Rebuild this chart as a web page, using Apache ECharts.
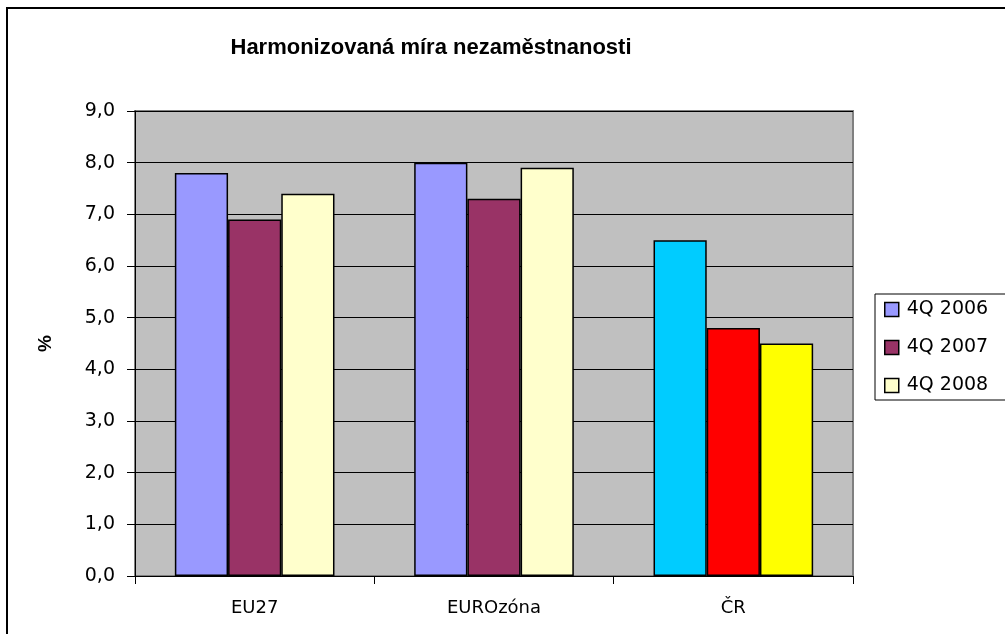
<!DOCTYPE html>
<html>
<head>
<meta charset="utf-8">
<script src="https://cdn.jsdelivr.net/npm/echarts@6/dist/echarts.min.js"></script>
<style>
  html, body { margin: 0; padding: 0; background: #fff; }
  #chart { width: 1005px; height: 634px; }
</style>
</head>
<body>
<div id="chart"></div>
<script>
// data
var categories = ["EU27", "EUROzóna", "ČR"];
var seriesNames = ["4Q 2006", "4Q 2007", "4Q 2008"];
var q2006 = [7.8, 8.0, 6.5];
var q2007 = [6.9, 7.3, 4.8];
var q2008 = [7.4, 7.9, 4.5];

// colours: legend colour per series, plus override for the ČR bars
var seriesColors = ["#9999FF", "#993366", "#FFFFCC"];
var crColors = ["#00CCFF", "#FF0000", "#FFFF00"];
var crIndex = 2;

function buildData(values, s) {
  return values.map(function (v, i) {
    if (i === crIndex) {
      return { value: v, itemStyle: { color: crColors[s] } };
    }
    return v;
  });
}

var font = "Liberation Sans, Arial, sans-serif";
var wideFont = "DejaVu Sans, Liberation Sans, sans-serif";
var chart = echarts.init(document.getElementById("chart"));

var option = {
  animation: false,
  title: {
    text: "Harmonizovaná míra nezaměstnanosti",
    left: 426,
    textAlign: "center",
    top: 32,
    textStyle: { fontFamily: font, fontSize: 22, fontWeight: "bold", color: "#000" }
  },
  legend: {
    orient: "vertical",
    left: 875,
    top: 294,
    padding: [6, 60, 5, 9],
    itemGap: 19,
    itemWidth: 14,
    itemHeight: 14,
    icon: "rect",
    backgroundColor: "#fff",
    borderColor: "#000",
    borderWidth: 1,
    textStyle: { fontFamily: wideFont, fontSize: 19, color: "#000", padding: [0, 0, 0, 3] },
    itemStyle: { borderColor: "#000", borderWidth: 1.5 },
    data: seriesNames
  },
  grid: {
    left: 135,
    right: 152,
    top: 111,
    bottom: 58,
    show: true,
    backgroundColor: "#C0C0C0",
    borderColor: "#808080",
    borderWidth: 2
  },
  xAxis: {
    type: "category",
    data: categories,
    axisLine: { lineStyle: { color: "#000", width: 1 } },
    axisTick: { show: true, length: 8, lineStyle: { color: "#000" } },
    axisLabel: { fontFamily: wideFont, fontSize: 18, color: "#000", margin: 23 }
  },
  yAxis: {
    type: "value",
    min: 0,
    max: 9,
    interval: 1,
    name: "%",
    nameLocation: "middle",
    nameGap: 80,
    nameRotate: 90,
    nameTextStyle: { fontFamily: font, fontSize: 19, fontWeight: "bold", color: "#000" },
    axisLine: { show: true, lineStyle: { color: "#000", width: 1 } },
    axisTick: { show: true, length: 8, lineStyle: { color: "#000" } },
    axisLabel: {
      fontFamily: wideFont,
      fontSize: 19,
      color: "#000",
      margin: 20,
      formatter: function (v) { return v.toFixed(1).replace(".", ","); }
    },
    splitLine: { show: true, lineStyle: { color: "#000", width: 1 } }
  },
  series: [q2006, q2007, q2008].map(function (vals, s) {
    return {
      name: seriesNames[s],
      type: "bar",
      barGap: "0%",
      barCategoryGap: "33.3%",
      itemStyle: { color: seriesColors[s], borderColor: "#000", borderWidth: 1.5 },
      data: buildData(vals, s)
    };
  }),
  graphic: [
    {
      type: "rect",
      shape: { x: 7, y: 8, width: 1200, height: 800 },
      style: { fill: null, stroke: "#000", lineWidth: 2 },
      silent: true
    }
  ]
};

chart.setOption(option);
</script>
</body>
</html>
